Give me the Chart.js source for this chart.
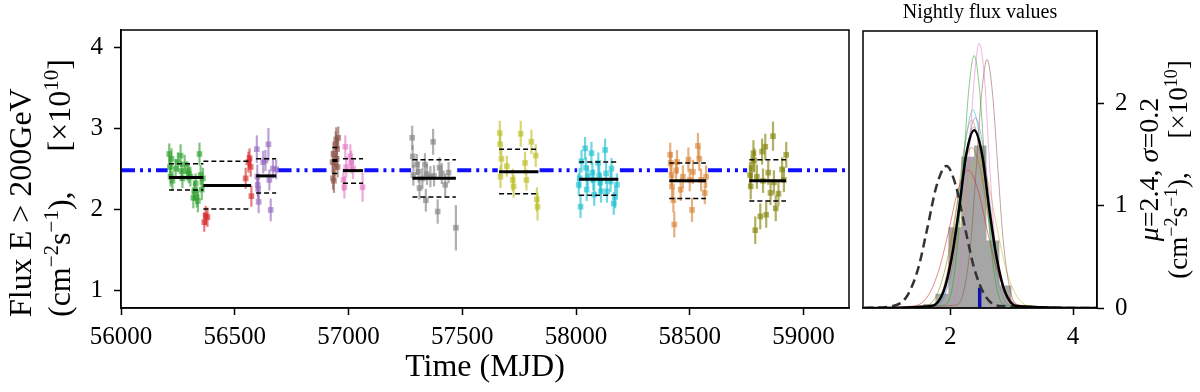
<!DOCTYPE html>
<html lang="en">
<head>
<meta charset="UTF-8" />
<title>Nightly flux</title>
<script src="https://cdn.jsdelivr.net/npm/chart.js"></script>
<style>
  body { margin: 0; background: #fff; }
  #wrap { position: relative; width: 1200px; height: 392px; }
  canvas { position: absolute; top: 0; }
  #lc { left: 0; }
  #hc { left: 858px; }
</style>
</head>
<body>
<div id="wrap">
  <canvas id="lc" width="858" height="392"></canvas>
  <canvas id="hc" width="342" height="392"></canvas>
</div>
<script>
// --- light curve, one set of arrays per season (MJD, flux x1e-10, error)
const s1Time = [56212, 56215, 56218, 56222, 56226, 56240, 56250, 56262, 56266, 56270, 56280, 56292, 56298, 56305, 56318, 56322, 56328, 56333, 56338, 56345, 56350, 56355, 56360];
const s1Flux = [2.68, 2.52, 2.40, 2.62, 2.35, 2.50, 2.58, 2.66, 2.47, 2.38, 2.55, 2.47, 2.44, 2.40, 2.14, 2.22, 2.32, 2.15, 2.10, 2.68, 2.42, 2.24, 2.38];
const s1Err  = [0.13, 0.12, 0.12, 0.13, 0.12, 0.12, 0.12, 0.14, 0.12, 0.12, 0.12, 0.12, 0.12, 0.12, 0.13, 0.12, 0.12, 0.13, 0.14, 0.14, 0.12, 0.13, 0.13];

const s2Time = [56366, 56372, 56380, 56548, 56560, 56565, 56570, 56573];
const s2Flux = [1.84, 1.92, 1.90, 2.38, 2.58, 2.63, 2.52, 2.16];
const s2Err  = [0.12, 0.12, 0.12, 0.13, 0.13, 0.12, 0.12, 0.13];

const s3Time = [56597, 56599, 56601, 56603, 56605, 56625, 56635, 56648, 56652, 56658, 56668, 56682];
const s3Flux = [2.74, 2.40, 2.30, 2.25, 2.09, 2.58, 2.60, 2.80, 2.36, 1.99, 2.50, 2.49];
const s3Err  = [0.17, 0.15, 0.14, 0.13, 0.14, 0.14, 0.13, 0.20, 0.13, 0.14, 0.12, 0.12];

const s4Time = [56930, 56932, 56934, 56936, 56940, 56944, 56946, 56948, 56950, 56952, 56955];
const s4Flux = [2.58, 2.38, 2.68, 2.35, 2.55, 2.80, 2.86, 2.62, 2.74, 2.52, 2.88];
const s4Err  = [0.14, 0.14, 0.15, 0.15, 0.14, 0.16, 0.15, 0.14, 0.14, 0.13, 0.14];

const s5Time = [56978, 56982, 56986, 56990, 57008, 57012, 57020, 57062];
const s5Flux = [2.36, 2.27, 2.77, 2.52, 2.65, 2.58, 2.50, 2.27];
const s5Err  = [0.14, 0.14, 0.14, 0.13, 0.15, 0.14, 0.13, 0.18];

const s6Time = [57280, 57282, 57285, 57300, 57308, 57312, 57325, 57336, 57340, 57345, 57360, 57372, 57376, 57392, 57400, 57410, 57425, 57440, 57472];
const s6Flux = [2.88, 2.65, 2.42, 2.55, 2.46, 2.26, 2.38, 2.55, 2.11, 2.43, 2.40, 2.83, 2.41, 1.97, 2.51, 2.44, 2.30, 2.45, 1.77];
const s6Err  = [0.15, 0.14, 0.13, 0.13, 0.13, 0.14, 0.13, 0.14, 0.14, 0.13, 0.13, 0.16, 0.13, 0.15, 0.13, 0.13, 0.14, 0.13, 0.28];

const s7Time = [57665, 57667, 57668, 57672, 57696, 57722, 57726, 57757, 57776, 57782, 57804, 57823, 57828, 57831];
const s7Flux = [2.94, 2.80, 2.40, 2.62, 2.53, 2.36, 2.28, 2.93, 2.57, 2.36, 2.83, 2.66, 2.12, 2.03];
const s7Err  = [0.15, 0.14, 0.14, 0.14, 0.13, 0.14, 0.14, 0.16, 0.14, 0.13, 0.15, 0.14, 0.15, 0.17];

const s8Time = [58012, 58016, 58020, 58024, 58040, 58044, 58047, 58052, 58068, 58072, 58076, 58080, 58098, 58102, 58106, 58110, 58128, 58132, 58136, 58152, 58156, 58166, 58172, 58180];
const s8Flux = [2.30, 2.38, 2.03, 2.59, 2.75, 2.51, 2.24, 2.40, 2.69, 2.45, 2.36, 2.18, 2.57, 2.41, 2.33, 2.22, 2.73, 2.44, 2.22, 2.34, 2.50, 2.07, 2.15, 2.30];
const s8Err  = [0.14, 0.13, 0.14, 0.14, 0.14, 0.13, 0.14, 0.13, 0.14, 0.13, 0.13, 0.14, 0.13, 0.13, 0.13, 0.14, 0.14, 0.13, 0.14, 0.13, 0.13, 0.14, 0.14, 0.14];

const s9Time = [58414, 58416, 58420, 58422, 58428, 58432, 58440, 58444, 58460, 58470, 58494, 58500, 58510, 58514, 58536, 58542, 58550, 58566, 58572];
const s9Flux = [2.67, 2.57, 2.42, 2.28, 2.11, 1.81, 2.48, 2.58, 2.24, 2.40, 2.61, 2.36, 1.99, 2.46, 2.78, 2.62, 2.36, 2.20, 2.40];
const s9Err  = [0.15, 0.14, 0.14, 0.14, 0.15, 0.16, 0.14, 0.15, 0.14, 0.14, 0.15, 0.14, 0.15, 0.15, 0.16, 0.15, 0.14, 0.14, 0.14];

const s10Time = [58765, 58768, 58772, 58780, 58784, 58788, 58795, 58810, 58818, 58822, 58832, 58836, 58845, 58855, 58866, 58870, 58878, 58890, 58906, 58914, 58924];
const s10Flux = [2.42, 2.28, 2.50, 2.69, 2.60, 1.74, 2.40, 1.91, 2.71, 2.35, 2.77, 1.93, 2.45, 2.20, 2.90, 2.33, 2.01, 2.19, 2.49, 2.36, 2.67];
const s10Err  = [0.16, 0.16, 0.16, 0.16, 0.15, 0.17, 0.15, 0.16, 0.16, 0.15, 0.16, 0.16, 0.15, 0.15, 0.18, 0.15, 0.16, 0.15, 0.15, 0.15, 0.16];

// season mean and +/- 1 sigma levels
const seasonStart = [56211, 56362, 56594, 56929, 56976, 57281, 57662, 58014, 58410, 58762];
const seasonEnd   = [56362, 56572, 56682, 56951, 57064, 57472, 57835, 58186, 58571, 58923];
const seasonMean  = [2.39, 2.29, 2.41, 2.60, 2.475, 2.38, 2.46, 2.37, 2.35, 2.35];
const seasonHigh  = [2.56, 2.59, 2.62, 2.76, 2.62, 2.61, 2.74, 2.58, 2.57, 2.61];
const seasonLow   = [2.235, 2.00, 2.20, 2.44, 2.32, 2.15, 2.19, 2.17, 2.13, 2.10];

// overall mean, drawn only between the seasons
const allMean = 2.48;
const meanSpans = [[56000, 56205], [56688, 56925], [57070, 57275], [57478, 57656], [57840, 58005], [58193, 58404], [58580, 58752], [58932, 59200]];

const timeTicks = [56000, 56500, 57000, 57500, 58000, 58500, 59000];
const fluxTicks = [1, 2, 3, 4];

// --- nightly flux distribution
const histEdges   = [1.56, 1.76, 1.97, 2.18, 2.39, 2.59, 2.80, 3.00];
const histDensity = [0.04, 0.14, 0.79, 1.48, 1.59, 0.66, 0.22];

const fitS1  = [[0.6,0],[1.91,0.03],[2.04,0.22],[2.13,0.69],[2.21,1.35],[2.30,2.12],[2.39,2.47],[2.48,2.12],[2.57,1.35],[2.65,0.69],[2.75,0.22],[2.88,0.03],[4.4,0]];
const fitS2  = [[0.6,0],[1.41,0.02],[1.64,0.12],[1.82,0.38],[1.97,0.74],[2.13,1.16],[2.29,1.35],[2.45,1.16],[2.61,0.74],[2.76,0.38],[2.94,0.12],[3.18,0.02],[4.4,0]];
const fitS3  = [[0.6,0],[1.77,0.02],[1.94,0.17],[2.07,0.52],[2.17,1.02],[2.29,1.60],[2.41,1.86],[2.53,1.60],[2.65,1.02],[2.75,0.52],[2.88,0.17],[3.06,0.02],[4.4,0]];
const fitS4  = [[0.6,0],[2.11,0.03],[2.24,0.22],[2.34,0.68],[2.42,1.33],[2.51,2.09],[2.60,2.43],[2.69,2.09],[2.78,1.33],[2.86,0.68],[2.96,0.22],[3.09,0.03],[4.4,0]];
const fitS5  = [[0.6,0],[2.01,0.03],[2.13,0.23],[2.22,0.72],[2.30,1.41],[2.39,2.23],[2.47,2.59],[2.56,2.23],[2.64,1.41],[2.72,0.72],[2.81,0.23],[2.93,0.03],[4.4,0]];
const fitS6  = [[0.6,0],[1.71,0.02],[1.89,0.16],[2.02,0.49],[2.13,0.97],[2.26,1.52],[2.38,1.77],[2.50,1.52],[2.63,0.97],[2.74,0.49],[2.88,0.16],[3.06,0.02],[4.4,0]];
const fitS7  = [[0.6,0],[1.64,0.02],[1.86,0.13],[2.02,0.40],[2.16,0.79],[2.31,1.25],[2.46,1.45],[2.61,1.25],[2.76,0.79],[2.90,0.40],[3.07,0.13],[3.29,0.02],[4.4,0]];
const fitS8  = [[0.6,0],[1.75,0.02],[1.92,0.17],[2.04,0.54],[2.14,1.06],[2.26,1.67],[2.37,1.94],[2.48,1.67],[2.60,1.06],[2.70,0.54],[2.82,0.17],[2.99,0.02],[4.4,0]];
const fitS9  = [[0.6,0],[1.70,0.02],[1.87,0.16],[2.00,0.51],[2.11,1.01],[2.23,1.58],[2.35,1.84],[2.47,1.58],[2.59,1.01],[2.70,0.51],[2.83,0.16],[3.00,0.02],[4.4,0]];
const fitS10 = [[0.6,0],[1.59,0.02],[1.79,0.14],[1.94,0.44],[2.07,0.86],[2.21,1.35],[2.35,1.57],[2.49,1.35],[2.63,0.86],[2.76,0.44],[2.91,0.14],[3.11,0.02],[4.4,0]];
const fitAll = [[0.6,0],[1.70,0.02],[1.89,0.16],[2.02,0.48],[2.14,0.95],[2.26,1.50],[2.39,1.74],[2.52,1.50],[2.64,0.95],[2.76,0.48],[2.89,0.16],[3.08,0.02],[4.4,0]];
const fitLow = [[0.6,0],[1.07,0.02],[1.30,0.12],[1.48,0.39],[1.62,0.76],[1.78,1.20],[1.94,1.39],[2.09,1.20],[2.25,0.76],[2.39,0.39],[2.57,0.12],[2.80,0.02],[4.4,0]];
const markHeight = 0.2;

const histXTicks = [2, 4];
const histYTicks = [0, 1, 2];

// colours per season
const rgb = ['44,160,44', '214,39,40', '148,103,189', '140,86,75', '227,119,194',
             '127,127,127', '188,189,34', '23,190,207', '214,128,48', '128,128,0'];

const FONT = "'Liberation Serif', serif";
Chart.defaults.font.family = FONT;
Chart.defaults.color = '#000';

// text pieces: [string, kind] with kind '' (plain), 'sup' or 'it'
const unitParts = [['(cm', ''], ['\u22122', 'sup'], ['s', ''], ['\u22121', 'sup'], ['),', ''], ['     [\u00D710', ''], ['10', 'sup'], [']', '']];

function drawRich(ctx, parts, size, centered) {
  const fontFor = k => (k === 'it' ? 'italic ' : '') + (k === 'sup' ? Math.round(size * 0.66) : size) + 'px ' + FONT;
  let w = 0;
  parts.forEach(([t, k]) => { ctx.font = fontFor(k); w += ctx.measureText(t).width; });
  let x = centered ? -w / 2 : 0;
  ctx.textAlign = 'left';
  ctx.textBaseline = 'alphabetic';
  parts.forEach(([t, k]) => {
    ctx.font = fontFor(k);
    ctx.fillText(t, x, k === 'sup' ? -size * 0.38 : 0);
    x += ctx.measureText(t).width;
  });
}

const errorBars = {
  id: 'errorBars',
  beforeDatasetDraw(chart, args) {
    const ds = chart.data.datasets[args.index];
    if (!ds.errors) return;
    const { ctx, scales: { x, y } } = chart;
    ctx.save();
    ctx.strokeStyle = ds.borderColor;
    ctx.lineWidth = 2.2;
    ds.data.forEach((p, i) => {
      const px = x.getPixelForValue(p.x);
      ctx.beginPath();
      ctx.moveTo(px, y.getPixelForValue(p.y - ds.errors[i]));
      ctx.lineTo(px, y.getPixelForValue(p.y + ds.errors[i]));
      ctx.stroke();
    });
    ctx.restore();
  }
};

const frame = {
  id: 'frame',
  afterDatasetsDraw(chart) {
    const { ctx, chartArea: a } = chart;
    ctx.save();
    ctx.strokeStyle = '#000';
    ctx.lineWidth = 1.5;
    ctx.strokeRect(a.left, a.top, a.right - a.left, a.bottom - a.top);
    ctx.restore();
  }
};

const tickOpts = (vals, size, pad) => ({
  afterBuildTicks: s => { s.ticks = vals.map(v => ({ value: v })); },
  ticks: { font: { size }, padding: pad, callback: v => String(v), maxRotation: 0 },
  grid: { drawOnChartArea: false, drawTicks: true, tickLength: 7, tickWidth: 1.5, tickColor: '#000' },
  border: { display: true, color: '#000', width: 1.5 }
});

// ---------- left: light curve
const seasons = [
  [s1Time, s1Flux, s1Err], [s2Time, s2Flux, s2Err], [s3Time, s3Flux, s3Err],
  [s4Time, s4Flux, s4Err], [s5Time, s5Flux, s5Err], [s6Time, s6Flux, s6Err],
  [s7Time, s7Flux, s7Err], [s8Time, s8Flux, s8Err], [s9Time, s9Flux, s9Err],
  [s10Time, s10Flux, s10Err]
];

const lcSets = [];
seasons.forEach((s, i) => {
  const level = (y, w, dash) => ({
    data: [{ x: seasonStart[i], y }, { x: seasonEnd[i], y }],
    showLine: true, pointRadius: 0, borderColor: '#000', borderWidth: w, borderDash: dash
  });
  lcSets.push(level(seasonMean[i], 3, []), level(seasonHigh[i], 1.5, [5, 3]), level(seasonLow[i], 1.5, [5, 3]));
});
seasons.forEach((s, i) => {
  const c = 'rgba(' + rgb[i] + ',0.62)';
  lcSets.push({
    data: s[0].map((t, k) => ({ x: t, y: s[1][k] })),
    errors: s[2],
    backgroundColor: c, borderColor: c,
    pointStyle: 'rect', pointRadius: 4, pointBorderWidth: 0
  });
});
meanSpans.forEach(([a, b]) => lcSets.push({
  data: [{ x: a, y: allMean }, { x: b, y: allMean }], showLine: true, pointRadius: 0,
  borderColor: '#1010ff', borderWidth: 4, borderDash: [14, 5, 3, 5, 3, 5], borderCapStyle: 'butt'
}));

const lcText = {
  id: 'lcText',
  afterDraw(chart) {
    const { ctx } = chart;
    ctx.save();
    ctx.fillStyle = '#000';
    ctx.translate(31, 317);
    ctx.rotate(-Math.PI / 2);
    drawRich(ctx, [['Flux E > 200GeV', '']], 32, false);
    ctx.translate(0, 39);
    drawRich(ctx, unitParts, 32, false);
    ctx.restore();
  }
};

new Chart(document.getElementById('lc'), {
  type: 'scatter',
  data: { datasets: lcSets },
  options: {
    responsive: false, animation: false, devicePixelRatio: 1,
    layout: { padding: { top: 30, right: 9, left: 0, bottom: 0 } },
    plugins: { legend: { display: false }, tooltip: { enabled: false } },
    scales: {
      x: Object.assign(tickOpts(timeTicks, 25, 7), {
        type: 'linear', min: 56000, max: 59200,
        afterFit: s => { s.height = 84; },
        title: { display: true, text: 'Time (MJD)', font: { size: 32 }, padding: { top: 0, bottom: 5 } }
      }),
      y: Object.assign(tickOpts(fluxTicks, 25, 11), {
        type: 'linear', min: 0.78, max: 4.21,
        afterFit: s => { s.width = 121; }
      })
    }
  },
  plugins: [errorBars, frame, lcText]
});

// ---------- right: nightly flux histogram
const histText = {
  id: 'histText',
  afterDraw(chart) {
    const { ctx, chartArea: a } = chart;
    const cy = (a.top + a.bottom) / 2;
    ctx.save();
    ctx.fillStyle = '#000';
    ctx.textAlign = 'center';
    ctx.textBaseline = 'middle';
    ctx.font = '20px ' + FONT;
    ctx.fillText('Nightly flux values', (a.left + a.right) / 2, 13);
    ctx.translate(300, cy);
    ctx.rotate(-Math.PI / 2);
    drawRich(ctx, [['\u03BC', 'it'], ['=2.4, ', ''], ['\u03C3', 'it'], ['=0.2', '']], 28, true);
    ctx.translate(0, 29);
    drawRich(ctx, unitParts, 27, true);
    ctx.restore();
  }
};

const toXY = arr => arr.map(([x, y]) => ({ x, y }));
const curve = (pts, color, w, dash) => ({
  data: toXY(pts), showLine: true, pointRadius: 0, borderColor: color, borderWidth: w,
  borderDash: dash || [], cubicInterpolationMode: 'monotone'
});

const histData = histDensity.map((h, i) => ({ x: histEdges[i], y: h }));
histData.push({ x: histEdges[histEdges.length - 1], y: 0 });

const fits = [fitS1, fitS2, fitS3, fitS4, fitS5, fitS6, fitS7, fitS8, fitS9, fitS10];
const hcSets = [
  curve(fitAll, '#000', 2.5),
  curve(fitLow, '#333', 2.5, [9, 5]),
  { data: [{ x: allMean, y: 0 }, { x: allMean, y: markHeight }], showLine: true, pointRadius: 0,
    borderColor: '#1010b0', borderWidth: 3.5, borderCapStyle: 'butt' }
];
fits.forEach((f, i) => hcSets.push(curve(f, 'rgba(' + rgb[i] + ',0.55)', 1)));
hcSets.push({
  data: histData, showLine: true, stepped: true, pointRadius: 0, borderWidth: 0,
  fill: 'origin', backgroundColor: 'rgba(128,128,128,0.7)'
});

new Chart(document.getElementById('hc'), {
  type: 'scatter',
  data: { datasets: hcSets },
  options: {
    responsive: false, animation: false, devicePixelRatio: 1,
    layout: { padding: { top: 31, right: 0, left: 5, bottom: 0 } },
    plugins: { legend: { display: false }, tooltip: { enabled: false } },
    scales: {
      x: Object.assign(tickOpts(histXTicks, 25, 7), {
        type: 'linear', min: 0.58, max: 4.39,
        afterFit: s => { s.height = 84; }
      }),
      y: Object.assign(tickOpts(histYTicks, 25, 11), {
        type: 'linear', position: 'right', min: 0, max: 2.71,
        afterFit: s => { s.width = 103; }
      })
    }
  },
  plugins: [frame, histText]
});
</script>
</body>
</html>
